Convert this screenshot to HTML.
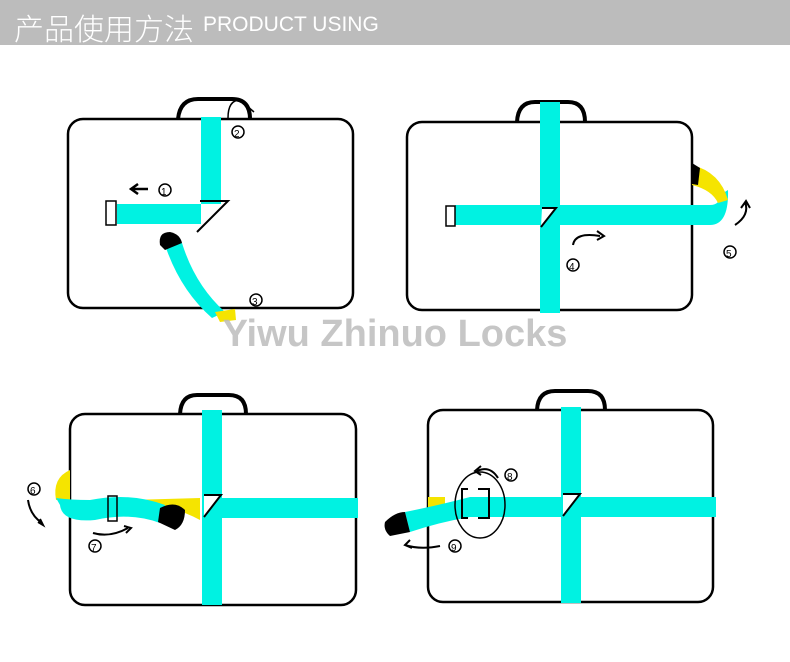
<!DOCTYPE html>
<html><head><meta charset="utf-8"><style>
body{margin:0;width:790px;height:662px;background:#fff;overflow:hidden;position:relative;font-family:"Liberation Sans",sans-serif}
.hd{position:absolute;left:0;top:0;width:790px;height:45px;background:#bcbcbc}
.hd span{position:absolute;color:#fff}
</style></head><body>
<div class="hd"><span style="left:14px;top:5px;font-size:30px;font-family:'Liberation Sans','Noto Sans CJK SC',sans-serif;font-weight:300">产品使用方法</span><span style="left:203px;top:13px;font-size:21px">PRODUCT USING</span></div>
<svg width="790" height="662" style="position:absolute;left:0;top:0" fill="none" stroke="#000" stroke-width="2.5">
<!-- panel1 -->
<path d="M178,119 Q180,99 198,99 H232 Q250,99 250,119" stroke-width="4"/>
<rect x="68" y="119" width="285" height="189" rx="15"/>
<rect x="201" y="117" width="20" height="87" fill="#00f2e2" stroke="none"/>
<rect x="117" y="204" width="84" height="20" fill="#00f2e2" stroke="none"/>
<rect x="106" y="201" width="10" height="24" stroke-width="1.5"/>
<path d="M200,201 H228 L197,232" stroke-width="2"/>
<path d="M165,245 Q180,290 212,318 L225,312 Q195,285 182,243Z" fill="#00f2e2" stroke="none"/>
<path d="M160,245 Q158,232 170,232 Q180,234 182,243 L165,250Z" fill="#000" stroke="none"/>
<path d="M215,312 L235,309 L236,320 L220,322Z" fill="#f5e400" stroke="none"/>
<path d="M228,118 Q228,100 240,100 L254,112" stroke-width="1.5"/>
<path d="M148,189 H132 M138,184 L131,189 L138,194" stroke-width="2.5"/>
<circle cx="165" cy="190" r="6" stroke-width="1.5"/><text x="161" y="195" font-size="10" fill="#000" stroke="none">1</text>
<circle cx="238" cy="132" r="6" stroke-width="1.5"/><text x="234" y="137" font-size="10" fill="#000" stroke="none">2</text>
<circle cx="256" cy="300" r="6" stroke-width="1.5"/><text x="252" y="305" font-size="10" fill="#000" stroke="none">3</text>
<!-- panel2 -->
<path d="M517,122 Q518,102 535,102 H568 Q585,102 585,122" stroke-width="4"/>
<rect x="407" y="122" width="285" height="188" rx="15"/>
<rect x="540" y="102" width="20" height="211" fill="#00f2e2" stroke="none"/>
<path d="M455,205 H710 Q720,205 720,195 L728,190 Q729,225 710,225 H455Z" fill="#00f2e2" stroke="none"/>
<path d="M692,165 Q720,172 728,200 L718,203 Q712,190 692,185Z" fill="#f5e400" stroke="none"/>
<path d="M692,163 L700,168 L698,185 L692,184Z" fill="#000" stroke="none"/>
<rect x="446" y="206" width="9" height="20" stroke-width="1.5"/>
<path d="M542,208 H556 L541,227" fill="#fff" stroke-width="2"/>
<path d="M573,245 Q575,232 600,236 M597,231 L604,236 L597,240" stroke-width="2"/>
<path d="M735,225 Q750,215 745,202 M741,208 L746,201 L750,208" stroke-width="2"/>
<circle cx="573" cy="265" r="6" stroke-width="1.5"/><text x="569" y="270" font-size="10" fill="#000" stroke="none">4</text>
<circle cx="730" cy="252" r="6" stroke-width="1.5"/><text x="726" y="257" font-size="10" fill="#000" stroke="none">5</text>
<!-- panel3 -->
<path d="M180,414 Q181,395 197,395 H229 Q246,395 246,414" stroke-width="4"/>
<rect x="70" y="414" width="286" height="191" rx="15"/>
<rect x="202" y="410" width="20" height="195" fill="#00f2e2" stroke="none"/>
<rect x="222" y="498" width="136" height="20" fill="#00f2e2" stroke="none"/>
<path d="M70,470 Q52,478 56,500 L70,500Z" fill="#f5e400" stroke="none"/>
<path d="M130,500 L200,498 L200,520 Q185,512 170,508Z" fill="#f5e400" stroke="none"/>
<path d="M56,498 Q70,500 90,500 Q130,492 165,505 L160,523 Q130,512 95,520 Q62,523 60,505Z" fill="#00f2e2" stroke="none"/>
<path d="M108,496 H117 V521 H108Z" stroke-width="1.5"/>
<path d="M160,508 Q175,500 185,510 Q185,525 175,530 L158,522Z" fill="#000" stroke="none"/>
<path d="M204,495 H221 L204,517" fill="#fff" stroke-width="2"/>
<path d="M28,500 Q30,515 42,523 M38,522 L43,525 L40,519" stroke-width="2"/>
<path d="M93,533 Q110,538 128,528 M124,526 L131,528 L126,533" stroke-width="2"/>
<circle cx="34" cy="489" r="6" stroke-width="1.5"/><text x="30" y="494" font-size="10" fill="#000" stroke="none">6</text>
<circle cx="95" cy="546" r="6" stroke-width="1.5"/><text x="91" y="551" font-size="10" fill="#000" stroke="none">7</text>
<!-- panel4 -->
<path d="M537,410 Q538,391 555,391 H588 Q605,391 605,410" stroke-width="4"/>
<rect x="428" y="410" width="285" height="192" rx="15"/>
<rect x="561" y="407" width="20" height="196" fill="#00f2e2" stroke="none"/>
<rect x="470" y="497" width="246" height="20" fill="#00f2e2" stroke="none"/>
<path d="M428,497 H445 V510 H428Z" fill="#f5e400" stroke="none"/>
<path d="M405,512 Q440,505 470,497 L470,517 Q440,522 410,532Z" fill="#00f2e2" stroke="none"/>
<path d="M385,522 Q395,512 405,512 L410,532 L390,536 Q383,530 385,522Z" fill="#000" stroke="none"/>
<ellipse cx="480" cy="505" rx="25" ry="33" stroke-width="1.5"/>
<path d="M468,489 H462 V518 H468 M478,489 H489 V518 H478" stroke-width="2"/>
<path d="M563,494 H580 L563,516" fill="#fff" stroke-width="2"/>
<path d="M498,478 Q490,465 477,471 M481,466 L475,471 L481,475" stroke-width="2"/>
<path d="M440,546 Q420,550 405,545 M410,540 L405,545 L412,548" stroke-width="2"/>
<circle cx="511" cy="475" r="6" stroke-width="1.5"/><text x="507" y="480" font-size="10" fill="#000" stroke="none">8</text>
<circle cx="455" cy="546" r="6" stroke-width="1.5"/><text x="451" y="551" font-size="10" fill="#000" stroke="none">9</text>
<text x="395" y="346" font-size="38" font-weight="bold" fill="#bdbdbd" stroke="none" text-anchor="middle" font-family="Liberation Sans" opacity="0.85">Yiwu Zhinuo Locks</text>
</svg>
</body></html>
